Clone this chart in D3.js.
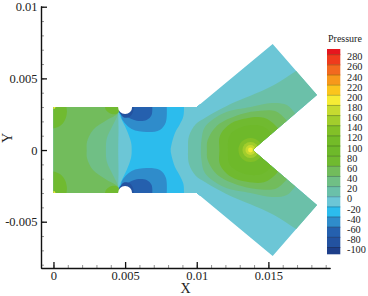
<!DOCTYPE html>
<html>
<head>
<meta charset="utf-8">
<script src="https://cdn.jsdelivr.net/npm/d3@7"></script>
<style>
  html, body { margin: 0; padding: 0; background: #fff; }
  svg { display: block; }
  text { font-family: "Liberation Serif", serif; fill: #222; }
</style>
</head>
<body>
<div id="chart"></div>
<script>
// All geometry below is in mm (1e-3 m), upper half only. The lower half is mirrored.
var domainX = [0, 0, 10, 15.3, 18.4, 13.9];
var domainY = [0, 3, 3, 7.4, 3.84, 0];

var xTicks = [0, 0.005, 0.01, 0.015];
var yTicks = [-0.005, 0, 0.005, 0.01];
var xMinor = d3.range(0, 20).map(d => d / 1000);
var yMinor = d3.range(-8, 11).map(d => d / 1000);

// Legend
var legendLevels = [280, 260, 240, 220, 200, 180, 160, 140, 120, 100, 80, 60, 40, 20, 0, -20, -40, -60, -80, -100];
var bandColors = ["#e6161f", "#ef3b1d", "#f2691f", "#f7981b", "#fbc51d", "#f6ec35", "#c6da30", "#a2cd2c", "#82c027", "#73bb28",
    "#6eb92a", "#70ba30", "#72bc5c", "#70bf85", "#6bc0a9", "#6cc6d6", "#2cbced", "#2f8ccb", "#2560ae", "#2352a0", "#1e3f8a"];

// Contours: [x, y] from centre line up to past the wall
var blueLeft = [[5.46, 0], [5.41, .56], [5.11, 1.40], [4.71, 2.23], [4.57, 2.65], [4.57, 3.21]];
var blueRight = [[8.18, 0], [8.23, .35], [8.48, 1.19], [8.83, 1.81], [9.07, 2.37], [9.11, 3.21]];

var right0 = [[9.39, 0], [9.46, .98], [9.94, 1.81], [10.57, 2.23], [11.41, 2.72], [12.67, 3.35], [13.71, 3.77], [15.39, 4.54], [16.85, 5.46], [17.55, 5.93]];
var right20 = [[10.29, 0], [10.33, .70], [10.57, 1.60], [11.90, 2.58], [13.76, 3.00], [15.25, 3.28], [16.29, 3.14], [16.85, 2.58], [17.19, 2.23]];
var right40 = [[10.71, 0], [10.75, .66], [11.41, 1.70], [13.06, 2.50], [14.46, 2.75], [15.51, 2.70], [16.20, 2.15], [16.64, 1.60]];
var right60 = [[11.58, 0], [11.62, 1.00], [12.37, 1.85], [13.50, 2.22], [14.69, 2.25], [15.51, 1.70], [15.95, 1.05]];
var right80 = [[12.18, 0], [12.32, 1.05], [13.36, 1.67], [14.55, 1.67], [15.25, 1.12], [15.53, .70]];

var left0 = [[4.52, 0], [4.54, 1.54], [4.52, 2.58], [4.52, 3.21]];
var left20 = [[3.66, 0], [3.73, .84], [4.15, 1.74], [4.50, 2.51], [4.52, 3.21]];
var left40 = [[2.32, 0], [2.34, .56], [2.76, 1.40], [3.73, 2.09], [4.50, 2.58], [4.52, 3.21]];

// Closed pockets along the top wall
var cornerBlob = [[-.24, 3.21], [-.24, 1.54], [.45, 1.67], [.80, 2.09], [.94, 2.65], [.87, 3.21]];
var neckBlob = [[3.59, 3.21], [3.66, 2.79], [4.08, 2.51], [4.50, 2.58], [4.71, 3.21]];
var low40 = [[4.71, 3.21], [4.71, 2.58], [4.78, 2.16], [5.46, 1.47], [6.51, 1.26], [7.43, 1.40], [7.85, 1.95], [7.90, 3.21]];
var low60 = [[4.61, 3.21], [4.61, 2.58], [5.11, 2.32], [5.81, 2.04], [6.50, 2.09], [6.85, 2.44], [6.89, 3.21]];
var low80 = [[4.61, 3.21], [4.61, 2.65], [4.92, 2.27], [5.34, 2.34], [5.55, 2.65], [5.62, 3.21]];

// Rings round the tip of the notch
var tipCentre = [13.75, 0];
var tipRadius = [.84, .56, .35, .17];
var tipLevels = [120, 140, 160, 180];

// Small spot in each left corner
var cornerSpot = [0, 3];
var cornerSpotRadius = .14;

var holeCentre = [5, 3];
var holeRadius = 0.49;

var svgWidth = 368;
var svgHeight = 296;

var xScale = d3.scaleLinear().domain([-0.00087, 0.0193]).range([41, 330]);
var yScale = d3.scaleLinear().domain([-0.00823, 0.01005]).range([268, 6]);
var legendY = d3.scaleLinear().domain([280, -100]).range([54.7, 247.5]);
var mx = d => xScale(d / 1000);
var my = d => yScale(d / 1000);

// colour of the band whose lower bound is level
function levelColor(level) {
    return bandColors[legendLevels.indexOf(level)];
}

var svg = d3.select("#chart").append("svg")
    .attr("width", svgWidth)
    .attr("height", svgHeight);

var smooth = d3.line().x(d => mx(d[0])).y(d => my(d[1])).curve(d3.curveCatmullRom);
var straight = d3.line().x(d => mx(d[0])).y(d => my(d[1]));

// clip to the Y shape
var upper = domainX.map((d, i) => [d, domainY[i]]);
var lower = upper.map(d => [d[0], -d[1]]).reverse();
svg.append("clipPath").attr("id", "shape")
    .append("path")
    .attr("d", straight(upper.concat(lower)) + "Z");

var field = svg.append("g").attr("clip-path", "url(#shape)");

// Fill everything on one side of a mirrored contour, out to closeX
function fillSide(points, closeX, level) {
    var mirrored = points.slice(1).map(d => [d[0], -d[1]]).reverse();
    var all = mirrored.concat(points);
    var first = all[0];
    var last = all[all.length - 1];
    var closing = "L" + mx(closeX) + "," + my(last[1]) + "L" + mx(closeX) + "," + my(first[1]) + "Z";
    field.append("path").attr("d", smooth(all) + closing).attr("fill", levelColor(level));
}

// Fill a pocket at the top wall and its twin at the bottom wall
function fillPocket(points, level) {
    [1, -1].forEach(sign => {
        field.append("path")
            .attr("d", smooth(points.map(d => [d[0], sign * d[1]])) + "Z")
            .attr("fill", levelColor(level));
    });
}

field.append("rect")
    .attr("x", mx(-1)).attr("y", my(9))
    .attr("width", mx(20) - mx(-1)).attr("height", my(-9) - my(9))
    .attr("fill", levelColor(-20));

fillSide(blueLeft, 12, -40);
fillSide(blueRight, 21, -20);

fillSide(right0, 21, 0);
fillSide(right20, 21, 20);
fillSide(right40, 21, 40);
fillSide(right60, 21, 60);
fillSide(right80, 21, 80);

tipRadius.forEach((r, i) => {
    field.append("circle")
        .attr("cx", mx(tipCentre[0]))
        .attr("cy", my(tipCentre[1]))
        .attr("r", mx(r) - mx(0))
        .attr("fill", levelColor(tipLevels[i]));
});

fillSide(left0, -1, 0);
fillSide(left20, -1, 20);
fillSide(left40, -1, 40);

fillPocket(cornerBlob, 60);
fillPocket(neckBlob, 60);
fillPocket(low40, -60);
fillPocket(low60, -80);
fillPocket(low80, -100);

[1, -1].forEach(sign => {
    field.append("circle")
        .attr("cx", mx(cornerSpot[0]))
        .attr("cy", my(sign * cornerSpot[1]))
        .attr("r", mx(cornerSpotRadius) - mx(0))
        .attr("fill", levelColor(180));
});

// the two round holes in the walls
[1, -1].forEach(sign => {
    svg.append("circle")
        .attr("cx", mx(holeCentre[0]))
        .attr("cy", my(sign * holeCentre[1]))
        .attr("r", mx(holeRadius) - mx(0))
        .attr("fill", "#fff");
});

// Axes: minor ticks first, then the labelled ones
var xMinorAxis = d3.axisBottom(xScale).tickValues(xMinor).tickSize(-3).tickFormat("").tickSizeOuter(0);
var yMinorAxis = d3.axisLeft(yScale).tickValues(yMinor).tickSize(-3).tickFormat("").tickSizeOuter(0);
var bottomAxis = d3.axisBottom(xScale).tickValues(xTicks).tickSize(-6).tickPadding(3.5).tickSizeOuter(0)
    .tickFormat(d => String(d));
var leftAxis = d3.axisLeft(yScale).tickValues(yTicks).tickSize(-6).tickPadding(3.5).tickSizeOuter(0)
    .tickFormat(d => String(d));

var xG = svg.append("g").attr("transform", "translate(0,268)");
var yG = svg.append("g").attr("transform", "translate(41,0)");
xG.append("g").call(xMinorAxis).selectAll("line").attr("stroke", "#777").attr("stroke-width", 0.8);
yG.append("g").call(yMinorAxis).selectAll("line").attr("stroke", "#777").attr("stroke-width", 0.8);
[xG.append("g").call(bottomAxis), yG.append("g").call(leftAxis)].forEach(a => {
    a.selectAll("path").attr("stroke", "#111").attr("stroke-width", 1.4);
    a.selectAll("line").attr("stroke", "#111").attr("stroke-width", 1.3);
    a.selectAll("text").attr("font-family", "Liberation Serif").attr("font-size", 12.5).attr("fill", "#222");
});

svg.append("text").attr("x", 185.5).attr("y", 293)
    .attr("text-anchor", "middle").attr("font-size", 14).text("X");
svg.append("text").attr("transform", "translate(12,138) rotate(-90)")
    .attr("text-anchor", "middle").attr("font-size", 14).text("Y");

// Legend bar
var legend = svg.append("g");
var legendEdges = [49].concat(legendLevels.map(d => legendY(d))).concat([254.3]);
bandColors.forEach((c, i) => {
    legend.append("rect")
        .attr("x", 327).attr("y", legendEdges[i])
        .attr("width", 13.3).attr("height", legendEdges[i + 1] - legendEdges[i])
        .attr("fill", c);
});
legendLevels.forEach((level, i) => {
    legend.append("line")
        .attr("x1", 327).attr("x2", 340.3)
        .attr("y1", legendY(level)).attr("y2", legendY(level))
        .attr("stroke", d3.color(bandColors[i + 1]).darker(0.9))
        .attr("stroke-width", 0.9);
    legend.append("text")
        .attr("x", 347).attr("y", legendY(level) + 5.6)
        .attr("font-size", 10.3).text(level);
});
svg.append("text").attr("x", 328).attr("y", 42)
    .attr("font-size", 10).text("Pressure");
</script>
</body>
</html>
